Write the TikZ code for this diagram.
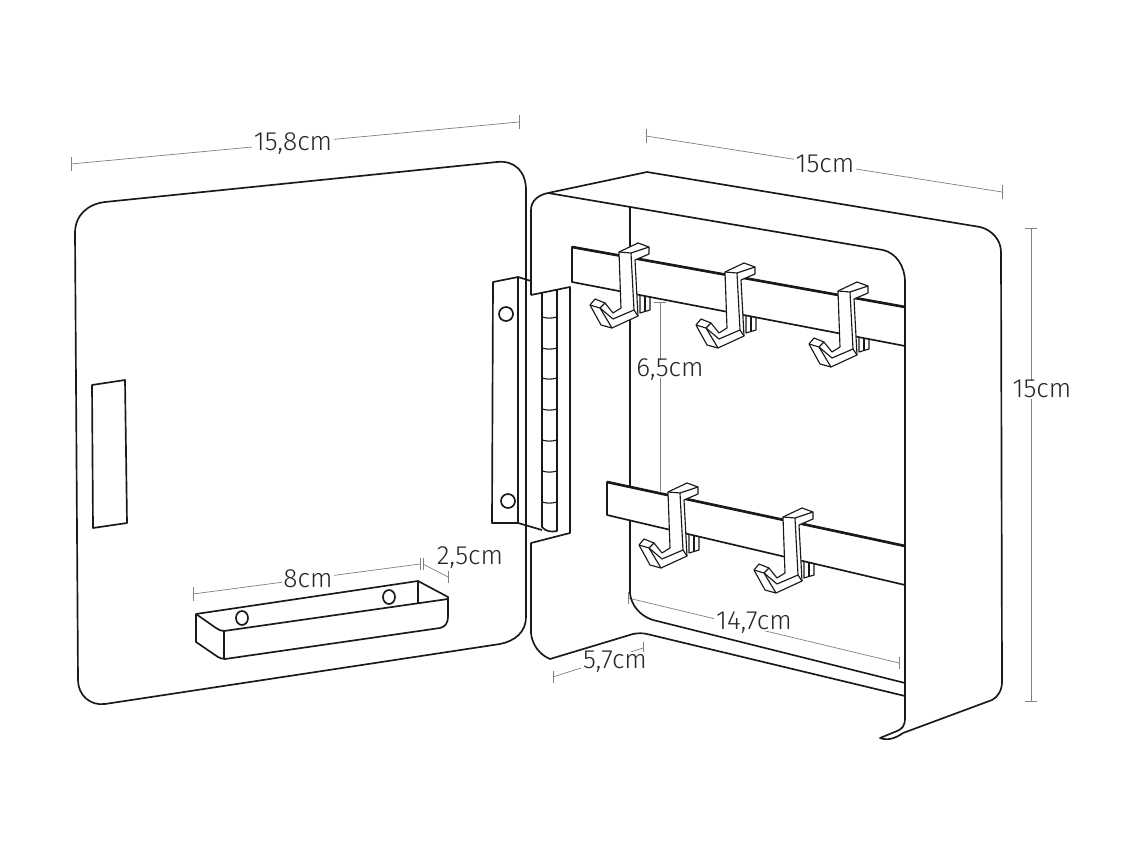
\documentclass[tikz,border=0pt]{standalone}
\usepackage{fontspec}
\setmainfont{Fira Sans}[UprightFont=* Light]
\begin{document}
\begin{tikzpicture}[x=0.02cm, y=-0.02cm, line join=round]
	\tikzset{ln/.style={draw=black!90, line width=0.95pt}};
	\tikzset{hk/.style={draw=black!90, line width=0.65pt}};
	\tikzset{bartop/.style={draw=black!90, line width=1.5pt}};
	\tikzset{dim/.style={draw=black!50, line width=0.4pt}};
	\tikzset{lbl/.style={fill=white, inner xsep=1pt, inner ysep=0.5pt, text height=9pt, text depth=0pt, font=\fontsize{15}{15}\selectfont, text=black!85}};
	\tikzset{hookback/.pic={
		\draw[hk, fill=white] (21,40) -- (31,44) -- (31,58) -- (21,61) -- cycle;
		\draw[hk] (26,42) -- (26,59);
	}};
	\tikzset{hookfront/.pic={
		\draw[hk, fill=white] (0,0) -- (19,-9) -- (30,-5) -- (30,2) -- (16,8) -- (19,64) -- (-7,76) -- (-18,73) -- (-29,53) -- (-24,47) -- (-14,51) -- (-6,61) -- (2,56) -- cycle;
		\draw[hk] (0,0) -- (12,1) -- (30,-5);
		\draw[hk] (12,1) -- (15,58) -- (-6,67) -- (-19,56) -- (-29,53);
		\draw[hk] (-19,56) -- (-7,76);
		\draw[hk] (-19,56) -- (-14,51);
		\draw[hk] (15,58) -- (19,64);
	}};

	\useasboundingbox (0,0) rectangle (1140,855);
	\fill[white] (0,0) rectangle (1140,855);

	% dimensions
	\coordinate (dw1) at (71,164);
	\coordinate (dw2) at (519,122);
	\draw[dim] (dw1) -- (dw2);
	\draw[dim] (dw1) +(0,-7) -- +(0,7);
	\draw[dim] (dw2) +(0,-7) -- +(0,7);
	\node[lbl] (dw) at (293,143) {15,8cm};

	\coordinate (cd1) at (646,136);
	\coordinate (cd2) at (1002,192);
	\draw[dim] (cd1) -- (cd2);
	\draw[dim] (cd1) +(0,-7) -- +(0,7);
	\draw[dim] (cd2) +(0,-7) -- +(0,7);
	\node[lbl] (cd) at (825,165) {15cm};

	\coordinate (ch1) at (1031,228);
	\coordinate (ch2) at (1031,701);
	\draw[dim] (ch1) -- (ch2);
	\draw[dim] (ch1) +(-6,0) -- +(6,0);
	\draw[dim] (ch2) +(-6,0) -- +(6,0);
	\node[lbl] (ch) at (1042,390) {15cm};

	\coordinate (bs1) at (660,302);
	\coordinate (bs2) at (660,491);
	\draw[dim] (bs1) -- (bs2);
	\draw[dim] (bs1) +(-6,0) -- +(6,0);
	\node[lbl] (bs) at (670,369) {6,5cm};

	\coordinate (tl1) at (193,594);
	\coordinate (tl2) at (420,564);
	\draw[dim] (tl1) -- (tl2);
	\draw[dim] (tl1) +(0,-7) -- +(0,7);
	\draw[dim] (tl2) +(0,-6) -- +(0,6);
	\node[lbl] (tl) at (308,580) {8cm};

	\coordinate (td1) at (423,564);
	\coordinate (td2) at (448,577);
	\draw[dim] (td1) -- (td2);
	\draw[dim] (td1) +(0,-6) -- +(0,6);
	\draw[dim] (td2) +(0,-6) -- +(0,6);
	\node[lbl] (td) at (470,557) {2,5cm};

	\coordinate (iw1) at (628,598);
	\coordinate (iw2) at (899,663);
	\draw[dim] (iw1) -- (iw2);
	\draw[dim] (iw1) +(0,-6) -- +(0,6);
	\draw[dim] (iw2) +(0,-6) -- +(0,6);
	\node[lbl] (iw) at (754,622) {14,7cm};

	\coordinate (sd1) at (553,677);
	\coordinate (sd2) at (643,648);
	\draw[dim] (sd1) -- (sd2);
	\draw[dim] (sd1) +(0,-6) -- +(0,6);
	\draw[dim] (sd2) +(0,-6) -- +(0,6);
	\node[lbl] (sd) at (615,661) {5,7cm};

	% door
	\draw[ln] (105,202) -- (497,162) .. controls (515,160) and (526,172) .. (526,190) -- (526,617) .. controls (526,632) and (515,641) .. (500,644) -- (105,704) .. controls (90,706) and (78,695) .. (78,680) -- (75,233) .. controls (75,215) and (88,204) .. (105,202) -- cycle;
	\draw[ln] (92,385) -- (125,380) -- (127,523) -- (93,528) -- cycle;

	% tray
	\draw[ln] (196,614) -- (418,581) -- (448,597) -- (448,617) .. controls (448,623) and (445,627) .. (440,628) -- (225,659) .. controls (222,659) and (220,658) .. (218,657) -- (196,642) -- cycle;
	\draw[ln] (196,614) -- (216,628) .. controls (219,630) and (221,631) .. (224,631) -- (448,599);
	\draw[ln] (224,631) -- (224,659);
	\draw[ln] (418,581) -- (418,603);
	\draw[ln] (242,618) ellipse (6 and 7);
	\draw[ln] (389,597) ellipse (6 and 7);

	% hinge
	\draw[ln] (518,277) -- (493,282) -- (492,523) -- (518,523) -- cycle;
	\draw[ln] (518,277) -- (531,281);
	\draw[ln] (518,523) -- (542,530);
	\draw[ln] (506,314) circle (7);
	\draw[ln] (508,501) circle (7);
	\draw[ln] (542,292) -- (542,527) .. controls (546,532) and (552,532) .. (557,531) -- (557,289);
	\draw[hk] (542,317) to[bend right=15] (557,317);
	\draw[hk] (542,348) to[bend right=15] (557,348);
	\draw[hk] (542,378) to[bend right=15] (557,378);
	\draw[hk] (542,409) to[bend right=15] (557,409);
	\draw[hk] (542,440) to[bend right=15] (557,440);
	\draw[hk] (542,471) to[bend right=15] (557,471);
	\draw[hk] (542,502) to[bend right=15] (557,502);

	% case
	\draw[ln] (531,295) -- (531,210) .. controls (531,201) and (538,195) .. (548,193) -- (647,172) -- (980,227) .. controls (992,230) and (1001,240) .. (1001,252) -- (1002,682) .. controls (1002,690) and (998,697) .. (992,700) -- (903,733);
	\draw[ln] (548,193) -- (883,250) .. controls (896,253) and (905,266) .. (905,282) -- (905,718) .. controls (905,726) and (902,729) .. (897,731) -- (880,738) .. controls (888,741) and (896,738) .. (903,733);
	\draw[ln] (531,295) -- (570,287) -- (570,533) -- (531,543) -- (531,633) .. controls (532,645) and (540,655) .. (550,659) -- (633,634) .. controls (638,633) and (643,633) .. (647,634) -- (905,696);
	\draw[ln] (630,207) -- (630,593) .. controls (631,605) and (640,616) .. (653,620) -- (905,683);

	% bars and hooks
	\pic at (619,252) {hookback};
	\pic at (725,272) {hookback};
	\pic at (838,291) {hookback};
	\pic at (668,492) {hookback};
	\pic at (783,517) {hookback};

	\draw[ln, fill=white] (572,247) -- (905,307) -- (905,346) -- (572,282) -- cycle;
	\draw[bartop] (572,247) -- (905,307);
	\draw[ln, fill=white] (607,482) -- (905,546) -- (905,585) -- (607,515) -- cycle;
	\draw[bartop] (607,482) -- (905,546);

	\pic at (619,252) {hookfront};
	\pic at (725,272) {hookfront};
	\pic at (838,291) {hookfront};
	\pic at (668,492) {hookfront};
	\pic at (783,517) {hookfront};
\end{tikzpicture}
\end{document}
